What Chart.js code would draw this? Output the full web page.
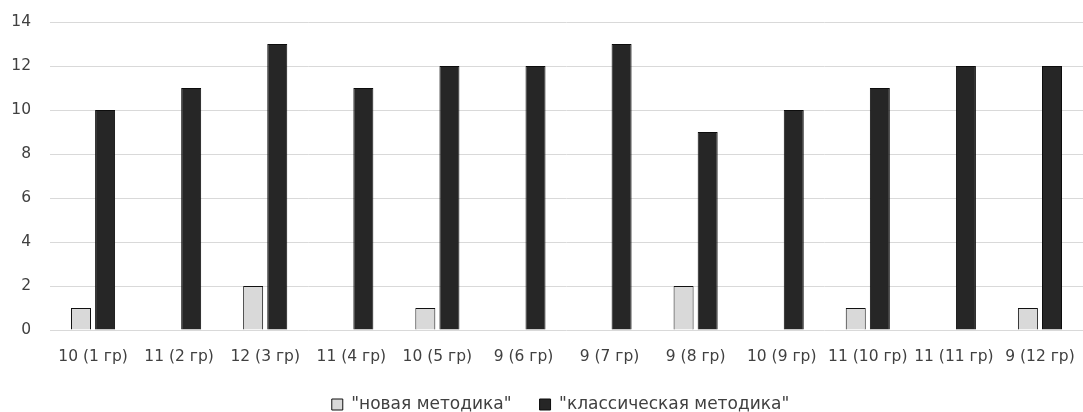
<!DOCTYPE html>
<html>
<head>
<meta charset="utf-8">
<script src="https://cdn.jsdelivr.net/npm/chart.js@4/dist/chart.umd.min.js"></script>
<style>
  html, body { margin: 0; padding: 0; background: #fff; }
  #wrap { width: 1083px; height: 412px; }
</style>
</head>
<body>
<div id="wrap"><canvas id="c"></canvas></div>
<script>
// Groups and results per method
const categories = ['10 (1 гр)', '11 (2 гр)', '12 (3 гр)', '11 (4 гр)', '10 (5 гр)', '9 (6 гр)',
                    '9 (7 гр)', '9 (8 гр)', '10 (9 гр)', '11 (10 гр)', '11 (11 гр)', '9 (12 гр)'];
const newMethod = [1, 0, 2, 0, 1, 0, 0, 2, 0, 1, 0, 1];
const classicMethod = [10, 11, 13, 11, 12, 12, 13, 9, 10, 11, 12, 12];
const yTicks = [0, 2, 4, 6, 8, 10, 12, 14];

const FONT = '"DejaVu Sans", sans-serif';

// zero-height bars get no outline
const edge = ctx => (ctx.raw === 0 ? 0 : 1);

// fixed axis sizes, no extra room for overhanging labels
const fixAxis = (size) => axis => {
  if (axis.isHorizontal()) axis.height = size; else axis.width = size;
  axis.paddingLeft = 0;
  axis.paddingRight = 0;
  axis.paddingTop = 0;
  axis.paddingBottom = 0;
};

// centre the legend under the plot area rather than the whole canvas
const legendUnderPlot = {
  id: 'legendUnderPlot',
  afterLayout(chart) {
    const lg = chart.legend;
    if (!lg) return;
    const shift = (chart.chartArea.left + chart.chartArea.right) / 2 - (lg.left + lg.right) / 2 - 6;
    lg.left += shift;
    lg.right += shift;
  }
};

new Chart(document.getElementById('c'), {
  type: 'bar',
  data: {
    labels: categories,
    datasets: [
      {
        label: '"новая методика"',
        data: newMethod,
        backgroundColor: '#d9d9d9',
        borderColor: '#111111',
        borderWidth: edge,
        borderSkipped: 'bottom'
      },
      {
        label: '"классическая методика"',
        data: classicMethod,
        backgroundColor: '#262626',
        borderColor: '#0d0d0d',
        borderWidth: 1,
        borderSkipped: 'bottom'
      }
    ]
  },
  plugins: [legendUnderPlot],
  options: {
    responsive: true,
    maintainAspectRatio: false,
    animation: false,
    categoryPercentage: 0.56,
    barPercentage: 0.83,
    layout: { padding: { top: 22, right: 0, left: 0, bottom: -11 } },
    plugins: {
      tooltip: { enabled: false },
      legend: {
        position: 'bottom',
        labels: {
          boxWidth: 11,
          boxHeight: 11,
          padding: 28,
          color: '#404040',
          font: { family: FONT, size: 17 }
        }
      }
    },
    scales: {
      x: {
        afterFit: fixAxis(38),
        grid: { display: false, drawTicks: false },
        border: { display: false },
        ticks: {
          color: '#404040',
          padding: 18,
          maxRotation: 0,
          autoSkip: false,
          font: { family: FONT, size: 15.5 }
        }
      },
      y: {
        min: 0,
        max: 14,
        afterFit: fixAxis(50),
        afterBuildTicks: axis => { axis.ticks = yTicks.map(v => ({ value: v })); },
        grid: { color: '#d9d9d9', lineWidth: 1, drawTicks: false },
        border: { display: false },
        ticks: {
          color: '#404040',
          padding: 19,
          font: { family: FONT, size: 15.5 }
        }
      }
    }
  }
});
</script>
</body>
</html>
